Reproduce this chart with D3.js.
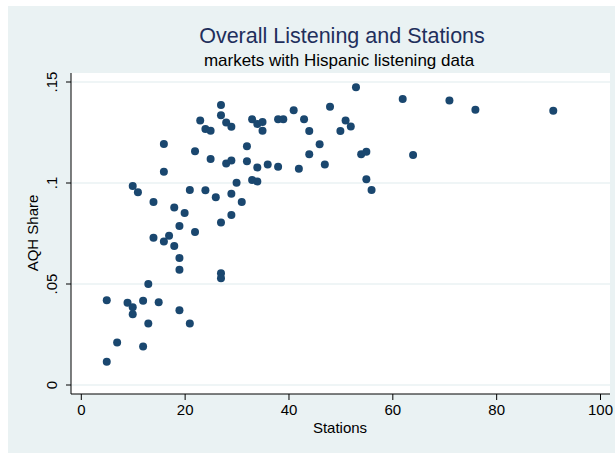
<!DOCTYPE html>
<html>
<head>
<meta charset="utf-8">
<script src="https://cdn.jsdelivr.net/npm/d3@7"></script>
<style>
  body { margin: 0; background: #fff; }
  text { font-family: "Liberation Sans", Arial, sans-serif; }
</style>
</head>
<body>
<svg width="615" height="453"></svg>
<script>
// stations per market
var stations = [5, 5, 7, 9, 10, 10, 12, 12, 13, 13, 15, 19, 21, 19, 19, 19, 18, 16, 17, 14,
  20, 18, 22, 27, 29, 27, 27, 14, 11, 10, 16, 16, 21, 24, 26, 29, 30, 31, 33, 34,
  22, 25, 28, 29, 32, 32, 34, 36, 38, 23, 24, 25, 27, 27, 28, 29, 33, 34, 35, 35,
  38, 39, 41, 43, 44, 46, 44, 42, 47, 48, 50, 51, 52, 53, 54, 55, 55, 56, 62, 64,
  71, 76, 91];
// AQH share per market
var aqh = [.0115, .042, .021, .0407, .0385, .035, .0417, .019, .050, .0305, .041, .037, .0305, .057, .0629, .0787, .0688, .071, .0739, .0729,
  .0851, .0879, .0757, .0805, .0842, .0553, .0528, .0906, .0954, .0985, .1056, .1193, .0965, .0964, .0929, .0947, .1001, .0906, .1015, .1008,
  .1157, .1119, .1097, .1112, .1182, .1108, .1077, .1092, .1081, .131, .1267, .1259, .1386, .1335, .1299, .1279, .1315, .1292, .1302, .1259,
  .1315, .1315, .136, .1315, .1257, .1192, .1142, .1071, .1092, .1378, .1257, .131, .128, .1474, .1142, .1155, .1018, .0965, .1416, .1139,
  .1408, .1363, .1358];
var xTicks = [0, 20, 40, 60, 80, 100];
var yTicks = [0, .05, .1, .15];
var yTickLabels = ["0", ".05", ".1", ".15"];

var data = stations.map(function(s, i){ return {x: s, y: aqh[i]}; });

var svg = d3.select("svg");

// outer background
svg.append("rect")
  .attr("x", 8).attr("y", 6).attr("width", 607).attr("height", 447)
  .attr("fill", "#eaf2f3");

var plot = {left: 71, right: 610, top: 73, bottom: 394};

svg.append("rect")
  .attr("x", plot.left).attr("y", plot.top)
  .attr("width", plot.right - plot.left).attr("height", plot.bottom - plot.top)
  .attr("fill", "#fff");

var x = d3.scaleLinear().domain([0, 100]).range([80.8, 600]);
var y = d3.scaleLinear().domain([0, .15]).range([385, 82]);

// gridlines
svg.selectAll(".grid").data(yTicks).join("line")
  .attr("x1", plot.left).attr("x2", plot.right)
  .attr("y1", d => y(d)).attr("y2", d => y(d))
  .attr("stroke", "#eaf2f3").attr("stroke-width", 1.5);

// points
svg.selectAll("circle").data(data).join("circle")
  .attr("cx", d => x(d.x))
  .attr("cy", d => y(d.y))
  .attr("r", 4)
  .attr("fill", "#1a476f");

// axes
var xAxis = d3.axisBottom(x).tickValues(xTicks).tickSize(6).tickPadding(4);
var gx = svg.append("g").attr("transform", "translate(0," + plot.bottom + ")").call(xAxis);
gx.select(".domain").attr("d", "M" + plot.left + ",0H" + plot.right);
gx.selectAll("text").attr("font-size", 15).attr("fill", "#000")
  .attr("font-family", "'Liberation Sans', Arial, sans-serif");
gx.selectAll("line, path").attr("stroke", "#000");

var yAxis = d3.axisLeft(y).tickValues(yTicks).tickFormat((d, i) => yTickLabels[i]).tickSize(5).tickPadding(4);
var gy = svg.append("g").attr("transform", "translate(" + plot.left + ",0)").call(yAxis);
gy.select(".domain").attr("d", "M0," + plot.top + "V" + plot.bottom);
gy.selectAll("text")
  .attr("font-size", 15).attr("fill", "#000")
  .attr("font-family", "'Liberation Sans', Arial, sans-serif")
  .attr("text-anchor", "middle")
  .attr("dy", null)
  .attr("x", null)
  .attr("transform", d => "translate(-14," + y(d) + ") rotate(-90)")
  .attr("y", 0);
gy.selectAll(".tick").attr("transform", null);
gy.selectAll(".tick line").attr("y1", d => y(d)).attr("y2", d => y(d));
gy.selectAll("line, path").attr("stroke", "#000");

// titles
svg.append("text")
  .attr("x", 342).attr("y", 43)
  .attr("text-anchor", "middle")
  .attr("font-size", 21.5)
  .attr("fill", "#1f2f5c")
  .text("Overall Listening and Stations");

svg.append("text")
  .attr("x", 339).attr("y", 66)
  .attr("text-anchor", "middle")
  .attr("font-size", 17)
  .attr("fill", "#000")
  .text("markets with Hispanic listening data");

svg.append("text")
  .attr("x", 340).attr("y", 433)
  .attr("text-anchor", "middle")
  .attr("font-size", 15)
  .text("Stations");

svg.append("text")
  .attr("transform", "translate(38,233) rotate(-90)")
  .attr("text-anchor", "middle")
  .attr("font-size", 15)
  .text("AQH Share");
</script>
</body>
</html>
